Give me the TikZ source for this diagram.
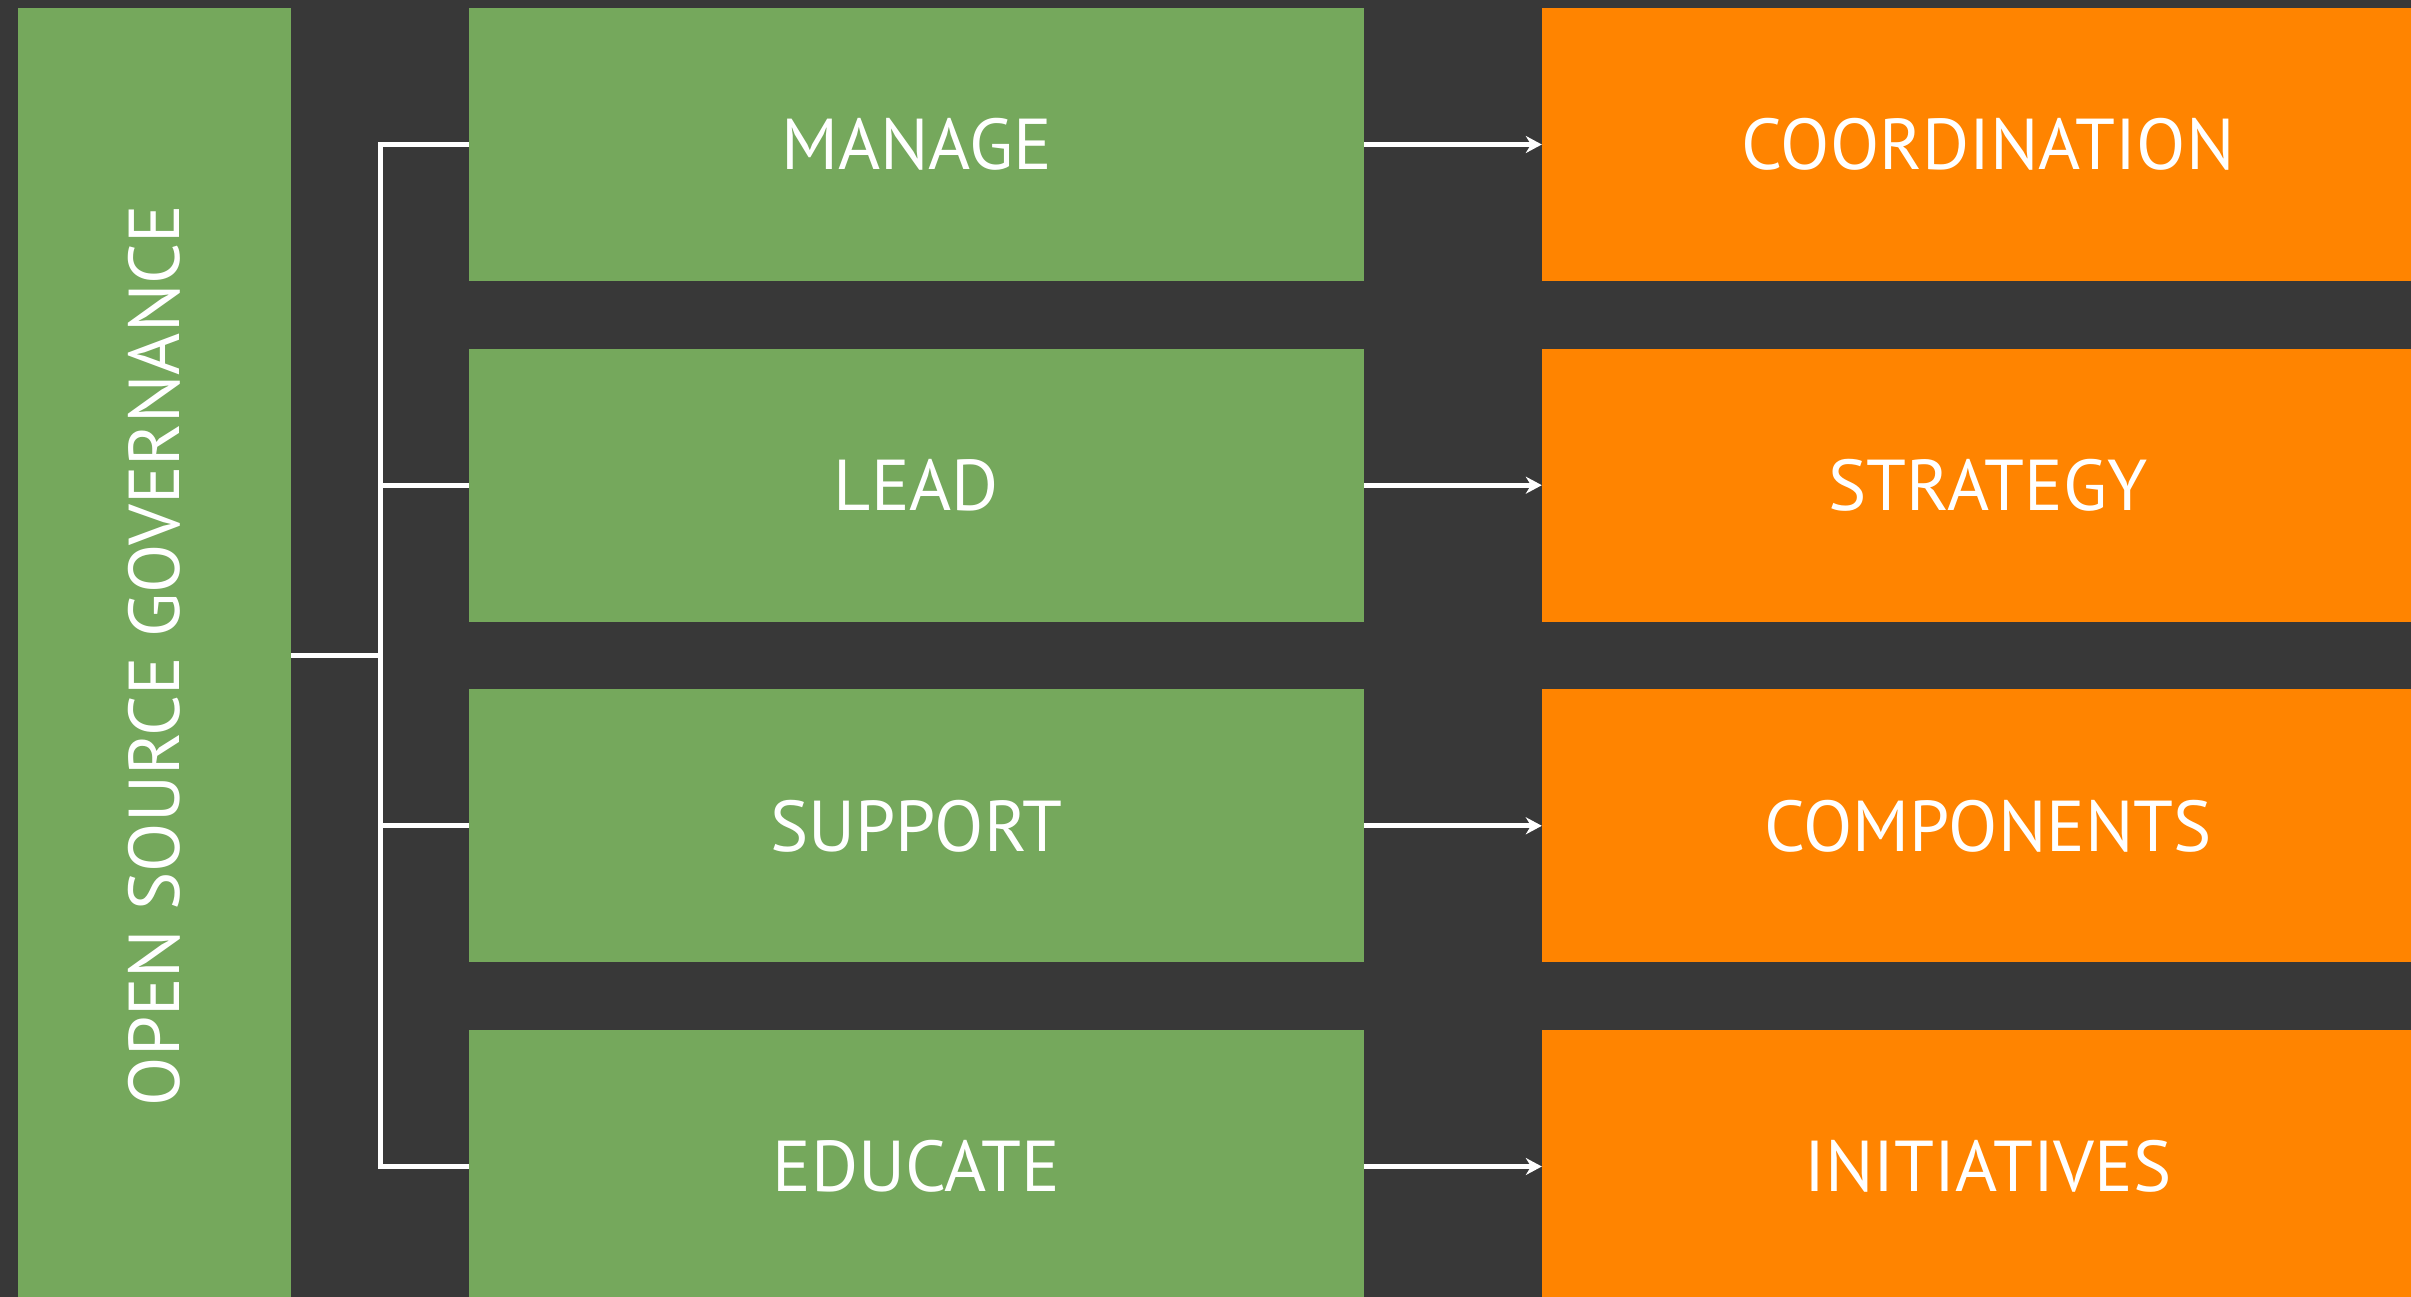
\documentclass[tikz,border=0pt]{standalone}
\usepackage{fontspec}
\setmainfont{PT Sans}
\usepackage{xcolor}
\usepackage{tikz}
\usetikzlibrary{arrows.meta}
\definecolor{bgdark}{HTML}{383838}
\definecolor{govgreen}{HTML}{75A85C}
\definecolor{govorange}{HTML}{FF8400}
\tikzset{boxtext/.style={text=white,font=\fontsize{72}{80}\selectfont,inner sep=0pt},
         greenbox/.style={boxtext,fill=govgreen,minimum width=895,minimum height=273},
         orangebox/.style={boxtext,fill=govorange,minimum width=892,minimum height=273},
         link/.style={draw=white,line width=5pt},
         pointer/.style={link,-{Stealth[length=16pt,width=17pt]}}}

\begin{document}
\begin{tikzpicture}[x=1pt,y=-1pt]
\useasboundingbox (0,0) rectangle (2411,1297);
\fill[bgdark] (0,0) rectangle (2411,1297);
\clip (0,0) rectangle (2411,1297);
% left column (rotated, so width and height swap)
\node[boxtext,fill=govgreen,minimum width=1295,minimum height=273,rotate=90] (gov) at (154.5,655.5) {OPEN SOURCE GOVERNANCE};
% middle column
\node[greenbox] (manage) at (916.5,144.5) {MANAGE};
\node[greenbox] (lead) at (916.5,485.2) {LEAD};
\node[greenbox] (support) at (916.5,825.8) {SUPPORT};
\node[greenbox] (educate) at (916.5,1166.5) {EDUCATE};
% right column, runs past the right edge
\node[orangebox] (coord) at (1988,144.5) {COORDINATION};
\node[orangebox] (strategy) at (1988,485.2) {STRATEGY};
\node[orangebox] (components) at (1988,825.8) {COMPONENTS};
\node[orangebox] (initiatives) at (1988,1166.5) {INITIATIVES};
% bracket
\coordinate (spine) at (380,655.5);
\draw[link] (gov.south) -- (spine);
\draw[link] (manage.west) -| (spine) |- (educate.west);
\draw[link] (lead.west) -- (lead.west -| spine);
\draw[link] (support.west) -- (support.west -| spine);
% arrows
\draw[pointer] (manage) -- (coord);
\draw[pointer] (lead) -- (strategy);
\draw[pointer] (support) -- (components);
\draw[pointer] (educate) -- (initiatives);
\end{tikzpicture}
\end{document}
